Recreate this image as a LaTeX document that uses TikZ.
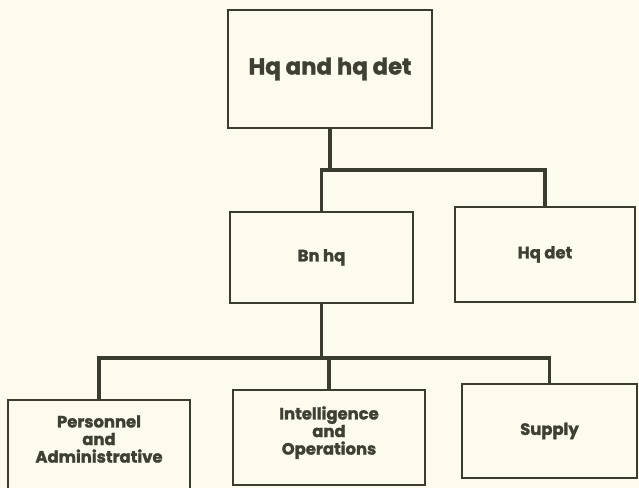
\documentclass[tikz,border=0pt]{standalone}
\usepackage{fontspec}
\setmainfont{Poppins}[BoldFeatures={FakeBold=1.6}]
\usepackage{tikz}
\usetikzlibrary{positioning}

\definecolor{paper}{RGB}{252,251,238}
\definecolor{ink}{RGB}{58,60,48}
\definecolor{textink}{RGB}{62,64,52}

\begin{document}
\begin{tikzpicture}[
    x=0.03cm, y=-0.03cm,
    unit/.style={rectangle,draw=ink,line width=1.5pt,fill=paper,inner sep=2pt,
                 align=center,text=textink,font=\bfseries\fontsize{14}{15}\selectfont},
    topunit/.style={unit,font=\bfseries\fontsize{19.5}{22}\selectfont},
    link/.style={draw=ink,line width=3.4pt}
]
    % page and paper
    \useasboundingbox (0,0) rectangle (639,488);
    \fill[paper] (0,0) rectangle (639,488);

    % Boxes, placed at the centres measured on the chart
    \node[topunit,minimum width=6.12cm,minimum height=3.54cm] (hq)     at (330,69)    {Hq and hq det};
    \node[unit,minimum width=5.49cm,minimum height=2.73cm]    (bn)     at (321.5,257.5) {Bn hq};
    \node[unit,minimum width=5.4cm,minimum height=2.85cm]     (det)    at (545,254.5) {Hq det};
    \node[unit,minimum width=5.46cm,minimum height=2.76cm,text depth=12pt] (pers) at (99,446) {Personnel\\and\\Administrative};
    \node[unit,minimum width=5.76cm,minimum height=2.85cm,text depth=12pt] (intel) at (329,437.5) {Intelligence\\and\\Operations};
    \node[unit,minimum width=5.25cm,minimum height=2.82cm]    (supply) at (549.5,431) {Supply};

    % bus lines
    \coordinate (bus1) at (0,170);
    \coordinate (bus2) at (0,358);

    % upper level
    \draw[link] (hq.south) -- (hq.south |- bus1);
    \draw[link] (bn.north) |- (det.north |- bus1) -- (det.north);

    % lower level
    \draw[link] (bn.south) -- (bn.south |- bus2);
    \draw[link] (pers.north) |- (supply.north |- bus2) -- (supply.north);
    \draw[link] (intel.north) -- (intel.north |- bus2);
\end{tikzpicture}
\end{document}
